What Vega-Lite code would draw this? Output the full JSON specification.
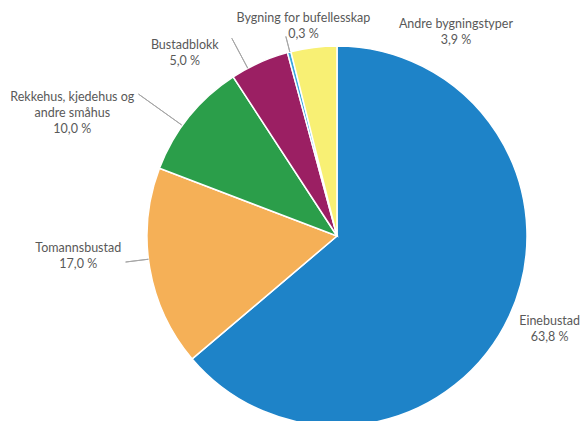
{
  "$schema": "https://vega.github.io/schema/vega-lite/v6.json",
  "background": "white",
  "autosize": {"type": "none"},
  "padding": {"left": 92, "top": 51, "right": 0, "bottom": 0},
  "width": 490,
  "height": 370,
  "config": {"view": {"stroke": null}},
  "data": {
    "values": [
      {"type": "Einebustad", "value": 63.8, "order": 1, "label": "Einebustad\n63,8 %"},
      {"type": "Tomannsbustad", "value": 17.0, "order": 2, "label": "Tomannsbustad\n17,0 %"},
      {"type": "Rekkehus, kjedehus og andre småhus", "value": 10.0, "order": 3, "label": "Rekkehus, kjedehus og\nandre småhus\n10,0 %"},
      {"type": "Bustadblokk", "value": 5.0, "order": 4, "label": "Bustadblokk\n5,0 %"},
      {"type": "Bygning for bufellesskap", "value": 0.3, "order": 5, "label": "Bygning for bufellesskap\n0,3 %"},
      {"type": "Andre bygningstyper", "value": 3.9, "order": 6, "label": "Andre bygningstyper\n3,9 %"}
    ]
  },
  "resolve": {"scale": {"theta": "independent"}},
  "layer": [
    {
      "mark": {"type": "arc", "radius": 190, "stroke": "white", "strokeWidth": 1.5},
      "encoding": {
        "theta": {"field": "value", "type": "quantitative", "stack": true},
        "order": {"field": "order", "type": "quantitative"},
        "color": {
          "field": "type", "type": "nominal", "legend": null,
          "scale": {
            "domain": ["Einebustad", "Tomannsbustad", "Rekkehus, kjedehus og andre småhus", "Bustadblokk", "Bygning for bufellesskap", "Andre bygningstyper"],
            "range": ["#1e83c8", "#f5b057", "#2b9e4a", "#9b1f63", "#3aa8de", "#f8f074"]
          }
        }
      }
    },
    {
      "mark": {"type": "arc", "radius": 213, "radius2": 190, "padAngle": 3.1, "fillOpacity": 0, "stroke": "#a6a6a6", "strokeWidth": 1},
      "encoding": {
        "theta": {"field": "value", "type": "quantitative", "stack": true, "scale": {"range": [0.0471, 6.3303]}},
        "order": {"field": "order", "type": "quantitative"},
        "detail": {"field": "type"},
        "strokeOpacity": {"condition": {"test": "datum.type === 'Tomannsbustad'", "value": 1}, "value": 0}
      }
    },
    {
      "mark": {"type": "arc", "radius": 244, "radius2": 191, "padAngle": 3.1, "fillOpacity": 0, "stroke": "#a6a6a6", "strokeWidth": 1},
      "encoding": {
        "theta": {"field": "value", "type": "quantitative", "stack": true, "scale": {"range": [-0.0580, 6.2252]}},
        "order": {"field": "order", "type": "quantitative"},
        "detail": {"field": "type"},
        "strokeOpacity": {"condition": {"test": "datum.order === 3", "value": 1}, "value": 0}
      }
    },
    {
      "mark": {"type": "arc", "radius": 224, "radius2": 190, "padAngle": 3.1, "fillOpacity": 0, "stroke": "#a6a6a6", "strokeWidth": 1},
      "encoding": {
        "theta": {"field": "value", "type": "quantitative", "stack": true, "scale": {"range": [-0.0680, 6.2152]}},
        "order": {"field": "order", "type": "quantitative"},
        "detail": {"field": "type"},
        "strokeOpacity": {"condition": {"test": "datum.type === 'Bustadblokk'", "value": 1}, "value": 0}
      }
    },
    {
      "mark": {"type": "arc", "radius": 206, "radius2": 190, "padAngle": 3.1, "fillOpacity": 0, "stroke": "#a6a6a6", "strokeWidth": 1},
      "encoding": {
        "theta": {"field": "value", "type": "quantitative", "stack": true, "scale": {"range": [0.0035, 6.2867]}},
        "order": {"field": "order", "type": "quantitative"},
        "detail": {"field": "type"},
        "strokeOpacity": {"condition": {"test": "datum.type === 'Bygning for bufellesskap'", "value": 1}, "value": 0}
      }
    },
    {
      "mark": {"type": "text", "radius": 229, "align": "center", "baseline": "middle", "lineBreak": "\n", "lineHeight": 16, "font": "Lato", "fontSize": 12.5, "fill": "#595959"},
      "encoding": {
        "theta": {"field": "value", "type": "quantitative", "stack": true, "scale": {"range": [-0.0531, 6.2301]}},
        "order": {"field": "order", "type": "quantitative"},
        "detail": {"field": "type"},
        "text": {"condition": {"test": "datum.type === 'Einebustad'", "field": "label"}, "value": ""}
      }
    },
    {
      "mark": {"type": "text", "radius": 259, "align": "center", "baseline": "middle", "lineBreak": "\n", "lineHeight": 16, "font": "Lato", "fontSize": 12.5, "fill": "#595959"},
      "encoding": {
        "theta": {"field": "value", "type": "quantitative", "stack": true, "scale": {"range": [0.1234, 6.4066]}},
        "order": {"field": "order", "type": "quantitative"},
        "detail": {"field": "type"},
        "text": {"condition": {"test": "datum.type === 'Tomannsbustad'", "field": "label"}, "value": ""}
      }
    },
    {
      "mark": {"type": "text", "radius": 299, "align": "center", "baseline": "middle", "lineBreak": "\n", "lineHeight": 16, "font": "Lato", "fontSize": 12.5, "fill": "#595959"},
      "encoding": {
        "theta": {"field": "value", "type": "quantitative", "stack": true, "scale": {"range": [-0.1951, 6.0881]}},
        "order": {"field": "order", "type": "quantitative"},
        "detail": {"field": "type"},
        "text": {"condition": {"test": "datum.order === 3", "field": "label"}, "value": ""}
      }
    },
    {
      "mark": {"type": "text", "radius": 244, "align": "center", "baseline": "middle", "lineBreak": "\n", "lineHeight": 16, "font": "Lato", "fontSize": 12.5, "fill": "#595959"},
      "encoding": {
        "theta": {"field": "value", "type": "quantitative", "stack": true, "scale": {"range": [-0.2527, 6.0305]}},
        "order": {"field": "order", "type": "quantitative"},
        "detail": {"field": "type"},
        "text": {"condition": {"test": "datum.type === 'Bustadblokk'", "field": "label"}, "value": ""}
      }
    },
    {
      "mark": {"type": "text", "radius": 221, "align": "center", "baseline": "middle", "lineBreak": "\n", "lineHeight": 16, "font": "Lato", "fontSize": 12.5, "fill": "#595959"},
      "encoding": {
        "theta": {"field": "value", "type": "quantitative", "stack": true, "scale": {"range": [0.1019, 6.3851]}},
        "order": {"field": "order", "type": "quantitative"},
        "detail": {"field": "type"},
        "text": {"condition": {"test": "datum.type === 'Bygning for bufellesskap'", "field": "label"}, "value": ""}
      }
    },
    {
      "mark": {"type": "text", "radius": 243, "align": "center", "baseline": "middle", "lineBreak": "\n", "lineHeight": 16, "font": "Lato", "fontSize": 12.5, "fill": "#595959"},
      "encoding": {
        "theta": {"field": "value", "type": "quantitative", "stack": true, "scale": {"range": [0.6339, 6.9171]}},
        "order": {"field": "order", "type": "quantitative"},
        "detail": {"field": "type"},
        "text": {"condition": {"test": "datum.type === 'Andre bygningstyper'", "field": "label"}, "value": ""}
      }
    }
  ]
}
